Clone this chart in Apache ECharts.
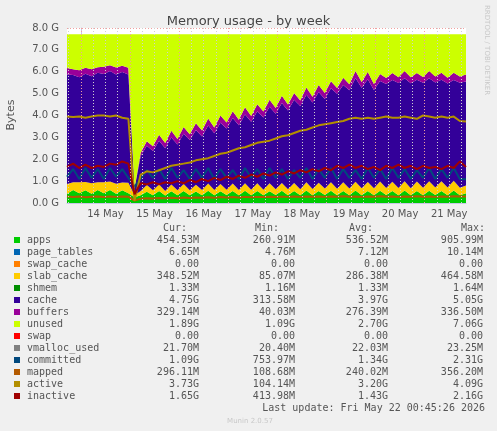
<!DOCTYPE html>
<html><head><meta charset="utf-8">
<script src="https://cdn.jsdelivr.net/npm/echarts@6/dist/echarts.min.js"></script>
<style>html,body{margin:0;padding:0;background:#F0F0F0}#c{width:497px;height:431px}</style>
</head><body><div id="c"></div>
<script>
// values in GB, one sample every 3 hours
const TOTAL = 7.72;
const apps = [0.42,0.6,0.45,0.58,0.42,0.6,0.45,0.6,0.42,0.58,0.45, 0.26,
 0.35,0.52,0.36,0.55,0.34,0.54,0.36,0.55,0.35,0.53,
 0.36,0.56,0.35,0.54,0.37,0.55,0.35,0.56,0.36,0.55,
 0.35,0.54,0.37,0.56,0.36,0.55,0.35,0.57,0.36,0.55,
 0.37,0.56,0.35,0.55,0.36,0.57,0.36,0.55,0.35,0.56,
 0.37,0.55,0.36,0.57,0.35,0.55,0.36,0.56,0.37,0.55,
 0.36,0.57,0.35,0.45];
const slabCache = [0.45,0.35,0.5,0.38,0.48,0.35,0.5,0.38,0.46,0.36,0.48, 0.09,
 0.2,0.3,0.22,0.3,0.21,0.31,0.22,0.32,0.23,0.31,
 0.23,0.33,0.24,0.33,0.24,0.34,0.25,0.34,0.25,0.35,
 0.26,0.36,0.26,0.36,0.27,0.37,0.28,0.38,0.28,0.38,
 0.29,0.39,0.3,0.4,0.3,0.4,0.31,0.41,0.32,0.42,
 0.32,0.42,0.33,0.43,0.33,0.43,0.34,0.44,0.34,0.44,
 0.35,0.45,0.35,0.35];
const cache = [5.0,4.9,4.8,4.95,4.9,5.0,4.95,5.05,5.0,5.05,4.95, 0.31,
 1.6,1.8,1.8,2.0,1.95,2.15,2.1,2.3,2.3,2.5,
 2.45,2.65,2.6,2.8,2.8,3.0,2.95,3.15,3.1,3.3,
 3.3,3.5,3.45,3.65,3.6,3.8,3.8,4.0,3.95,4.15,
 4.1,4.3,4.35,4.45,4.5,4.75,4.6,4.7,4.5,4.6,
 4.75,4.65,4.8,4.7,4.8,4.65,4.8,4.7,4.8,4.65,
 4.75,4.6,4.8,4.75];
const buffers = [0.3,0.26,0.32,0.27,0.31,0.26,0.33,0.27,0.32,0.28,0.3, 0.04,
 0.15,0.2,0.22,0.27,0.24,0.3,0.25,0.3,0.26,0.31,
 0.27,0.32,0.26,0.33,0.27,0.31,0.26,0.33,0.27,0.32,
 0.27,0.32,0.26,0.33,0.27,0.31,0.26,0.33,0.27,0.32,
 0.27,0.32,0.26,0.33,0.27,0.31,0.26,0.33,0.27,0.32,
 0.27,0.32,0.26,0.33,0.27,0.31,0.26,0.33,0.27,0.32,
 0.27,0.33,0.28,0.33];
const committed = [1.2,1.55,1.1,1.6,1.15,1.55,1.1,1.6,1.2,1.55,1.15, 0.75,
 1.1,1.5,1.15,1.55,1.1,1.6,1.15,1.5,1.1,1.55,
 1.15,1.6,1.1,1.55,1.15,1.5,1.1,1.6,1.15,1.55,
 1.1,1.6,1.15,1.55,1.1,1.5,1.15,1.6,1.1,1.55,
 1.15,1.6,1.1,1.55,1.15,1.5,1.1,1.6,1.15,1.55,
 1.1,1.6,1.15,1.55,1.1,1.5,1.15,1.6,1.1,1.55,
 1.15,1.6,1.1,1.09];
const mapped = [0.3,0.27,0.3,0.26,0.29,0.3,0.27,0.3,0.28,0.3,0.29, 0.11,
 0.2,0.22,0.21,0.23,0.22,0.24,0.22,0.25,0.23,0.25,
 0.24,0.26,0.24,0.27,0.25,0.27,0.25,0.28,0.26,0.28,
 0.27,0.29,0.27,0.29,0.28,0.3,0.28,0.3,0.29,0.3,
 0.28,0.3,0.29,0.31,0.29,0.3,0.28,0.3,0.29,0.31,
 0.29,0.3,0.28,0.3,0.29,0.31,0.29,0.3,0.28,0.3,
 0.29,0.31,0.3,0.3];
const active = [3.95,3.93,3.95,3.9,3.95,4.0,4.0,3.95,4.0,3.9,3.85, 0.1,
 1.3,1.45,1.4,1.5,1.6,1.7,1.75,1.8,1.85,1.95,
 2.0,2.05,2.15,2.25,2.3,2.4,2.5,2.55,2.65,2.75,
 2.8,2.85,2.95,3.05,3.1,3.2,3.3,3.35,3.45,3.55,
 3.6,3.65,3.7,3.75,3.85,3.9,3.85,3.9,3.85,3.9,
 3.95,3.9,3.9,3.95,3.9,3.85,4.0,3.95,3.9,3.95,
 3.9,3.95,3.75,3.73];
const inactive = [1.65,1.8,1.6,1.75,1.6,1.7,1.65,1.8,1.75,1.9,1.8, 0.4,
 0.9,0.85,0.95,0.85,0.95,0.9,1.0,0.9,1.05,0.95,
 1.1,1.0,1.15,1.05,1.2,1.1,1.25,1.15,1.3,1.2,
 1.35,1.25,1.4,1.3,1.45,1.35,1.5,1.4,1.55,1.45,
 1.6,1.5,1.7,1.6,1.75,1.6,1.7,1.55,1.65,1.5,
 1.7,1.6,1.75,1.6,1.7,1.55,1.7,1.6,1.65,1.55,
 1.7,1.6,1.9,1.65];
const dayLabels = ['14 May','15 May','16 May','17 May','18 May','19 May','20 May','21 May'];
const legendNames = ['apps','page_tables','swap_cache','slab_cache','shmem','cache','buffers','unused','swap','vmalloc_used','committed','mapped','active','inactive'];
const legendColors = ['#00CC00','#0066B3','#FF8000','#FFCC00','#008F00','#330099','#990099','#CCFF00','#FF0000','#808080','#00487D','#B35A00','#B38F00','#A00000'];
const curVals = ['454.53M','6.65M','0.00','348.52M','1.33M','4.75G','329.14M','1.89G','0.00','21.70M','1.09G','296.11M','3.73G','1.65G'];
const minVals = ['260.91M','4.76M','0.00','85.07M','1.16M','313.58M','40.03M','1.09G','0.00','20.40M','753.97M','108.68M','104.14M','413.98M'];
const avgVals = ['536.52M','7.12M','0.00','286.38M','1.33M','3.97G','276.39M','2.70G','0.00','22.03M','1.34G','240.02M','3.20G','1.43G'];
const maxVals = ['905.99M','10.14M','0.00','464.58M','1.64M','5.05G','336.50M','7.06G','0.00','23.25M','2.31G','356.20M','4.09G','2.16G'];

// hours relative to 14 May 00:00
const T0 = -6.8, STEP = 3;
const hrs = apps.map((_, i) => +(T0 + i * STEP).toFixed(1));
const TMAX = hrs[hrs.length - 1];
const unused = apps.map((_, i) => +(TOTAL - apps[i] - slabCache[i] - cache[i] - buffers[i]).toFixed(3));

const area = (name, data, color) => ({name, type:'line', stack:'mem', data, symbol:'none',
  lineStyle:{width:0}, areaStyle:{color, opacity:1}, itemStyle:{color}, z:2});
const line = (name, data, color) => ({name, type:'line', data, symbol:'none',
  lineStyle:{width:2, color}, itemStyle:{color}, z:3});

const vLines = [];
for (let h = -6; h <= TMAX; h += 6) {
  const mid = (h % 24 === 0);
  vLines.push({xAxis: h, lineStyle:{color: mid ? '#F0A0A0' : '#D0D0D0', type:[1,2], width:1}});
}

const g = [];
const ty = 228;
[['Cur:',187],['Min:',279],['Avg:',373],['Max:',485]].forEach(([t,x]) =>
  g.push({type:'text', x, y:ty, style:{text:t, font:'10px "DejaVu Sans Mono"', fill:'#555', align:'right', verticalAlign:'middle'}}));
legendNames.forEach((n, i) => {
  const y = 240 + i * 12;
  g.push({type:'rect', shape:{x:14, y:y-3, width:6, height:6}, style:{fill:legendColors[i]}});
  g.push({type:'text', x:27, y, style:{text:n, font:'10px "DejaVu Sans Mono"', fill:'#555', verticalAlign:'middle'}});
  [[curVals,199],[minVals,295],[avgVals,388],[maxVals,483]].forEach(([arr,x]) =>
    g.push({type:'text', x, y, style:{text:arr[i], font:'10px "DejaVu Sans Mono"', fill:'#555', align:'right', verticalAlign:'middle'}}));
});
g.push({type:'text', x:485, y:408, style:{text:'Last update: Fri May 22 00:45:26 2026', font:'10px "DejaVu Sans Mono"', fill:'#555', align:'right', verticalAlign:'middle'}});
g.push({type:'text', x:250, y:421, style:{text:'Munin 2.0.57', font:'7px "DejaVu Sans"', fill:'#C8C8C8', align:'center', verticalAlign:'middle'}});
g.push({type:'text', x:487, y:5, rotation:-Math.PI/2, style:{text:'RRDTOOL / TOBI OETIKER', font:'7px "DejaVu Sans"', fill:'#C8C8C8', verticalAlign:'middle'}});
g.push({type:'text', x:11, y:115, rotation:Math.PI/2, style:{text:'Bytes', font:'11px "DejaVu Sans"', fill:'#555', align:'center', verticalAlign:'middle'}});

const chart = echarts.init(document.getElementById('c'));
chart.setOption({
  backgroundColor:'#F0F0F0',
  animation:false,
  title:{text:'Memory usage - by week', left:'center', top:10, textStyle:{fontFamily:'DejaVu Sans', fontSize:13, fontWeight:'normal', color:'#444'}},
  grid:{left:67, right:31, top:28, bottom:228, backgroundColor:'#fff', show:true, borderWidth:0},
  xAxis:[
    {type:'category', data:hrs, boundaryGap:false, show:false},
    {type:'value', min:T0, max:TMAX, splitLine:{show:false}, axisTick:{show:false}, position:'bottom',
      axisLine:{lineStyle:{color:'#C8C8E8'}},
      axisLabel:{customValues:dayLabels.map((_, i) => 12 + 24*i), formatter:v => dayLabels[Math.round((v-12)/24)],
        fontFamily:'DejaVu Sans', fontSize:10, color:'#555', margin:6}}
  ],
  yAxis:{type:'value', min:0, max:8, interval:1, axisLine:{show:true, lineStyle:{color:'#C8C8E8'}}, axisTick:{show:false},
    axisLabel:{formatter:v => v.toFixed(1)+' G', fontFamily:'DejaVu Sans', fontSize:10, color:'#555'},
    splitLine:{lineStyle:{color:'#F0A0A0', type:[1,2]}},
    minorTick:{show:false, splitNumber:2}, minorSplitLine:{show:true, lineStyle:{color:'#D0D0D0', type:[1,2]}}},
  series:[
    area('apps', apps, '#00CC00'),
    area('slab_cache', slabCache, '#FFCC00'),
    area('cache', cache, '#330099'),
    area('buffers', buffers, '#990099'),
    area('unused', unused, '#CCFF00'),
    {type:'line', xAxisIndex:1, data:[], silent:true, markLine:{silent:true, symbol:'none', label:{show:false}, data:vLines}, z:4},
    line('committed', committed, '#00487D'),
    line('mapped', mapped, '#B35A00'),
    line('active', active, '#B38F00'),
    line('inactive', inactive, '#A00000')
  ],
  graphic:g
});
</script></body></html>
